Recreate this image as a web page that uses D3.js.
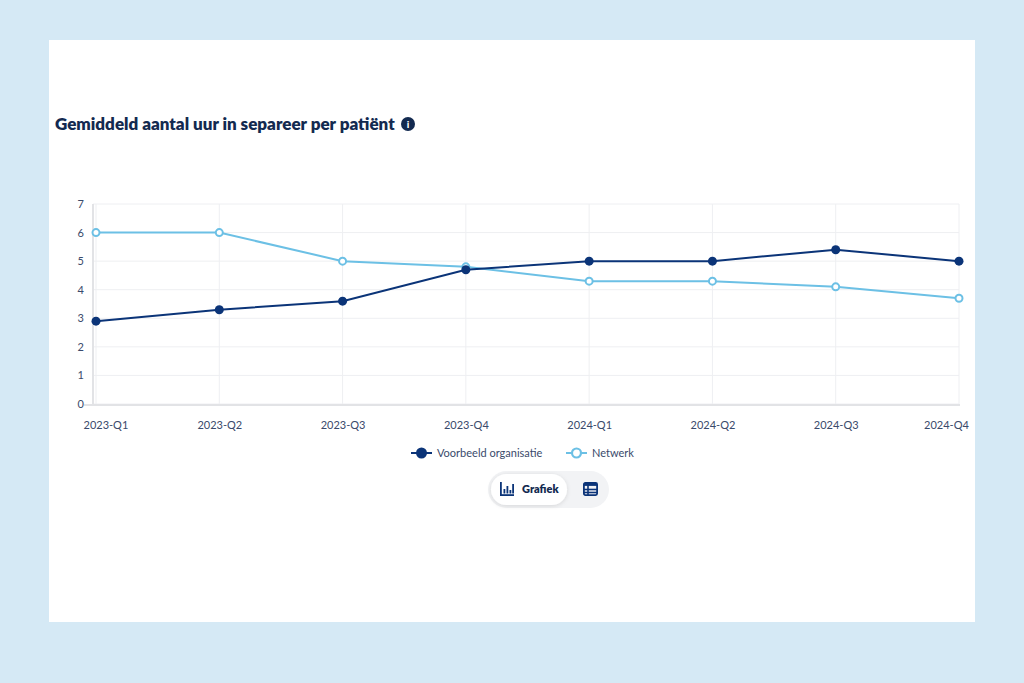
<!DOCTYPE html>
<html>
<head>
<meta charset="utf-8">
<script src="https://cdn.jsdelivr.net/npm/d3@7"></script>
<style>
  html,body{margin:0;padding:0;background:#d5e9f5;}
  svg{display:block;}
  text{font-family:Lato,"Open Sans",sans-serif;}
</style>
</head>
<body>
<svg id="c" width="1024" height="683"></svg>
<script>
const categories = ["2023-Q1","2023-Q2","2023-Q3","2023-Q4","2024-Q1","2024-Q2","2024-Q3","2024-Q4"];
const organisatie = [2.9, 3.3, 3.6, 4.7, 5.0, 5.0, 5.4, 5.0];
const netwerk = [6.0, 6.0, 5.0, 4.8, 4.3, 4.3, 4.1, 3.7];
const yTicks = [0,1,2,3,4,5,6,7];
const seriesNames = ["Voorbeeld organisatie", "Netwerk"];
const title = "Gemiddeld aantal uur in separeer per patiënt";

const DARK = "#0b3478", LIGHT = "#6cc0e5", TEXT = "#3a4a6b", NAVY = "#132a50";

const svg = d3.select("#c");
svg.append("rect").attr("x",0).attr("y",0).attr("width",1024).attr("height",683).attr("fill","#d5e9f5");
svg.append("rect").attr("x",49).attr("y",40).attr("width",926).attr("height",582).attr("fill","#ffffff");

// title
svg.append("text").attr("x",55).attr("y",130).attr("font-size",17).attr("font-weight",800)
  .attr("fill",NAVY).text(title);
const info = svg.append("g").attr("transform","translate(408,124)");
info.append("circle").attr("r",7).attr("fill",NAVY);
info.append("text").attr("y",4).attr("text-anchor","middle").attr("font-size",10).attr("font-weight",900)
  .attr("fill","#fff").text("i");

const x = d3.scalePoint().domain(categories).range([96,959]);
const y = d3.scaleLinear().domain([0,7]).range([404,204]);

// grid
const g = svg.append("g");
g.selectAll(".hg").data(yTicks).join("line")
  .attr("x1",93).attr("x2",959).attr("y1",d=>y(d)).attr("y2",d=>y(d))
  .attr("stroke","#eeeff2").attr("stroke-width",1);
g.selectAll(".vg").data(categories).join("line")
  .attr("x1",d=>x(d)).attr("x2",d=>x(d)).attr("y1",204).attr("y2",404)
  .attr("stroke","#eeeff2").attr("stroke-width",1);

// axes lines
g.append("line").attr("x1",93).attr("x2",93).attr("y1",204).attr("y2",405).attr("stroke","#e2e3e6").attr("stroke-width",2);
g.append("line").attr("x1",84).attr("x2",960).attr("y1",405).attr("y2",405).attr("stroke","#e2e3e6").attr("stroke-width",2);

// y labels
const yAxis = d3.axisLeft(y).tickValues(yTicks).tickSize(0).tickPadding(0).tickFormat(d3.format("d"));
const ya = svg.append("g").attr("transform","translate(84,0)").call(yAxis);
ya.select(".domain").remove();
ya.selectAll("text").attr("font-size",11).attr("fill",TEXT).attr("font-family","Lato,'Open Sans',sans-serif");

// x labels
const xAxis = d3.axisBottom(x).tickSize(0).tickPadding(0);
const xa = svg.append("g").attr("transform","translate(0,421)").call(xAxis);
xa.select(".domain").remove();
xa.selectAll("text").attr("font-size",11).attr("fill",TEXT).attr("font-family","Lato,'Open Sans',sans-serif")
  .attr("dy","0.71em");
xa.selectAll(".tick").each(function(d){
  const t = d3.select(this).select("text");
  const bb = t.node().getBBox();
  const cx = x(d);
  let shift = 0;
  if (cx + bb.x < 83) shift = 83 - (cx + bb.x);
  if (cx + bb.x + bb.width > 969) shift = 969 - (cx + bb.x + bb.width);
  t.attr("x", shift);
});

// lines
const line = d3.line().x((d,i)=>x(categories[i])).y(d=>y(d));
svg.append("path").datum(netwerk).attr("d",line).attr("fill","none").attr("stroke",LIGHT).attr("stroke-width",2);
svg.append("path").datum(organisatie).attr("d",line).attr("fill","none").attr("stroke",DARK).attr("stroke-width",2);

svg.selectAll(".pn").data(netwerk).join("circle")
  .attr("cx",(d,i)=>x(categories[i])).attr("cy",d=>y(d)).attr("r",3.5)
  .attr("fill","#fff").attr("stroke",LIGHT).attr("stroke-width",2);
svg.selectAll(".po").data(organisatie).join("circle")
  .attr("cx",(d,i)=>x(categories[i])).attr("cy",d=>y(d)).attr("r",4.5)
  .attr("fill",DARK);

// legend
const lg = svg.append("g").attr("transform","translate(0,453)");
const legItems = [{name:seriesNames[0], c:DARK, hollow:false, x:411},{name:seriesNames[1], c:LIGHT, hollow:true, x:566}];
legItems.forEach(it=>{
  lg.append("line").attr("x1",it.x).attr("x2",it.x+21).attr("y1",0).attr("y2",0).attr("stroke",it.c).attr("stroke-width",2);
  if (it.hollow) lg.append("circle").attr("cx",it.x+10.5).attr("cy",0).attr("r",4.5).attr("fill","#fff").attr("stroke",it.c).attr("stroke-width",2.2);
  else lg.append("circle").attr("cx",it.x+10.5).attr("cy",0).attr("r",5.5).attr("fill",it.c);
  lg.append("text").attr("x",it.x+26).attr("y",4).attr("font-size",11).attr("fill",TEXT).text(it.name);
});

// toggle
const defs = svg.append("defs");
const f = defs.append("filter").attr("id","sh").attr("x","-20%").attr("y","-40%").attr("width","140%").attr("height","180%");
f.append("feDropShadow").attr("dx",0).attr("dy",1).attr("stdDeviation",2).attr("flood-color","#000").attr("flood-opacity",0.12);
const tg = svg.append("g");
tg.append("rect").attr("x",488).attr("y",471).attr("width",121).attr("height",37).attr("rx",18.5).attr("fill","#f2f3f5");
tg.append("rect").attr("x",491).attr("y",474).attr("width",76).attr("height",31).attr("rx",15.5).attr("fill","#fff").attr("filter","url(#sh)");
// bar icon
const bi = tg.append("g").attr("transform","translate(500,482)").attr("fill",DARK);
bi.append("rect").attr("x",0).attr("y",0).attr("width",1.8).attr("height",14);
bi.append("rect").attr("x",0).attr("y",12.2).attr("width",14).attr("height",1.8);
[[3.5,7],[6.5,4],[9.5,8],[12.2,2]].forEach(b=>bi.append("rect").attr("x",b[0]).attr("y",b[1]).attr("width",1.8).attr("height",11-b[1]+0.5));
tg.append("text").attr("x",522).attr("y",493).attr("font-size",11).attr("font-weight",800).attr("fill",NAVY).text("Grafiek");
// table icon
const ti = tg.append("g").attr("transform","translate(583,482)");
ti.append("rect").attr("x",0.9).attr("y",0.9).attr("width",13.2).attr("height",12.2).attr("rx",1.5).attr("fill","none").attr("stroke",DARK).attr("stroke-width",1.8);
ti.append("rect").attr("x",0.9).attr("y",0.9).attr("width",13.2).attr("height",3).attr("fill",DARK);
ti.append("line").attr("x1",1).attr("x2",14).attr("y1",7.5).attr("y2",7.5).attr("stroke",DARK).attr("stroke-width",1.6);
ti.append("line").attr("x1",1).attr("x2",14).attr("y1",10.5).attr("y2",10.5).attr("stroke",DARK).attr("stroke-width",1.6);
ti.append("line").attr("x1",5).attr("x2",5).attr("y1",2).attr("y2",13).attr("stroke",DARK).attr("stroke-width",1.6);
</script>
</body>
</html>
